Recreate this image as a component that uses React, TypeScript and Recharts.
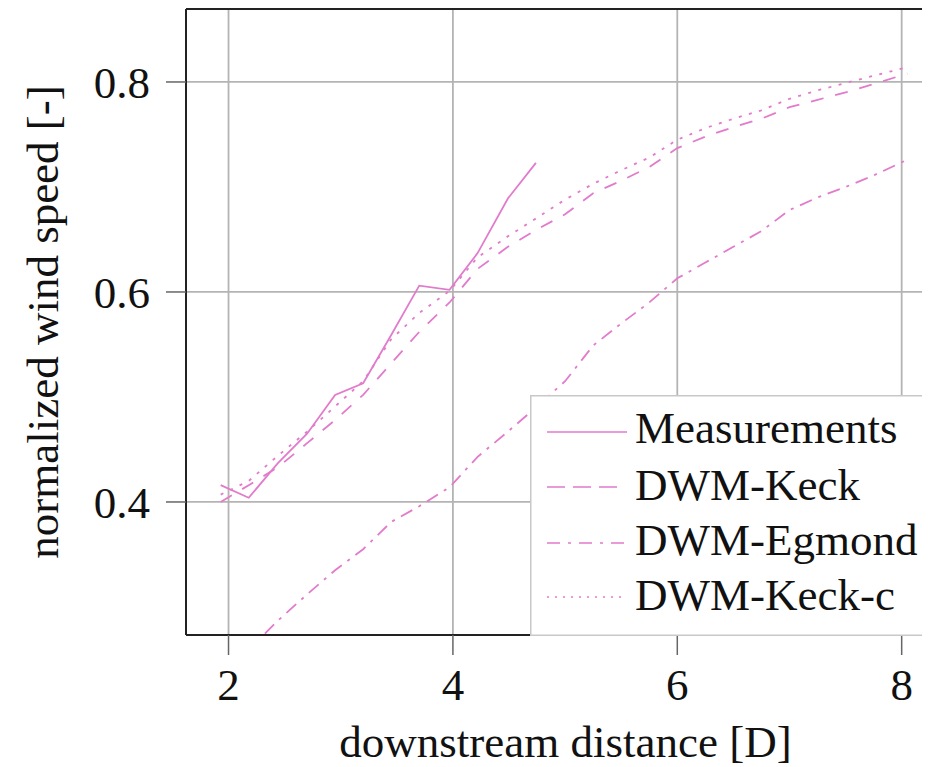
import React from "react";
import {
  LineChart,
  Line,
  XAxis,
  YAxis,
  CartesianGrid,
  ReferenceLine,
  Label,
} from "recharts";

// ---- data ----
const measX = [1.93, 2.18, 2.44, 2.7, 2.95, 3.2, 3.45, 3.7, 3.97, 4.22, 4.49, 4.74];
const measY = [0.416, 0.404, 0.437, 0.465, 0.502, 0.513, 0.559, 0.606, 0.602, 0.637, 0.689, 0.723];

const modelX = [
  1.93, 2.18, 2.44, 2.7, 2.95, 3.2, 3.45, 3.7, 3.97, 4.22, 4.49, 4.74, 5.0, 5.25, 5.5, 5.75,
  6.0, 6.25, 6.5, 6.75, 7.0, 7.25, 7.5, 7.75, 8.05,
];
const keckY = [
  0.4, 0.416, 0.433, 0.456, 0.478, 0.502, 0.532, 0.562, 0.59, 0.622, 0.643, 0.659, 0.674,
  0.694, 0.706, 0.719, 0.737, 0.748, 0.757, 0.765, 0.776, 0.783, 0.79, 0.798, 0.808,
];
const egmondY = [
  0.236, 0.259, 0.287, 0.312, 0.335, 0.355, 0.381, 0.396, 0.414, 0.443, 0.467, 0.49, 0.515,
  0.549, 0.57, 0.59, 0.613, 0.628, 0.643, 0.658, 0.678, 0.69, 0.7, 0.711, 0.726,
];
const keckCY = [
  0.407, 0.42, 0.444, 0.467, 0.491, 0.515, 0.555, 0.58, 0.601, 0.633, 0.653, 0.67, 0.688,
  0.703, 0.716, 0.728, 0.745, 0.756, 0.765, 0.773, 0.784, 0.792, 0.799, 0.806, 0.814,
];

const xTicks = [2, 4, 6, 8];
const yTicks = [0.4, 0.6, 0.8];
const X_DOMAIN: [number, number] = [1.621, 8.297];
const Y_DOMAIN: [number, number] = [0.2733, 0.8695];

const seriesNames = ["Measurements", "DWM-Keck", "DWM-Egmond", "DWM-Keck-c"];

const toPts = (xs: number[], ys: number[]) => xs.map((x, i) => ({ x, y: ys[i] }));

const PINK = "#e27bcc";
const FONT = "'Liberation Serif', 'Times New Roman', serif";

const plotDash = ["", "13 12", "13 7 3 7", "3 7.5"];
const legendDash = ["", "18 8", "13 8 3 8", "2 6"];
const legendLen = [80, 70, 80, 80];

function LegendBox() {
  const lineYs = [37, 92, 148, 202];
  const baseYs = [48, 105, 160, 215];
  return (
    <div style={{ position: "absolute", left: 522, top: 387 }}>
      <svg width={420} height={241}>
        <rect x={0.75} y={0.75} width={430} height={239.5} fill="#fff" stroke="#c8c8c8" strokeWidth={1.5} />
        {seriesNames.map((n, i) => (
          <g key={n}>
            <line
              x1={17}
              x2={17 + legendLen[i]}
              y1={lineYs[i]}
              y2={lineYs[i]}
              stroke={PINK}
              strokeWidth={1.6}
              strokeDasharray={legendDash[i] || undefined}
            />
            <text x={105} y={baseYs[i]} fontFamily={FONT} fontSize={45} fill="#111">
              {n}
            </text>
          </g>
        ))}
      </svg>
    </div>
  );
}

export default function App() {
  const series = [
    toPts(measX, measY),
    toPts(modelX, keckY),
    toPts(modelX, egmondY),
    toPts(modelX, keckCY),
  ];
  const tickStyle = { fontFamily: FONT, fontSize: 45, fill: "#111" };
  return (
    <div style={{ width: 922, height: 759, overflow: "hidden", position: "relative" }}>
      <LineChart width={932} height={759} margin={{ top: 1, right: 5, bottom: 0, left: 0 }}>
        <CartesianGrid stroke="#b4b4b4" strokeWidth={1.8} />
        <XAxis
          type="number"
          dataKey="x"
          domain={X_DOMAIN}
          allowDataOverflow
          ticks={xTicks}
          height={132}
          tick={tickStyle}
          tickSize={20}
          tickMargin={13}
          tickLine={{ stroke: "#666", strokeWidth: 1.5 }}
          axisLine={{ stroke: "#222", strokeWidth: 2 }}
        >
          <Label
            content={(p: any) => {
              const vb = p.viewBox || {};
              return (
                <text
                  x={vb.x + vb.width / 2 + 5}
                  y={vb.y + 122}
                  textAnchor="middle"
                  fontFamily={FONT}
                  fontSize={45}
                  fill="#111"
                >
                  downstream distance [D]
                </text>
              );
            }}
          />
        </XAxis>
        <YAxis
          type="number"
          dataKey="y"
          domain={Y_DOMAIN}
          allowDataOverflow
          ticks={yTicks}
          width={178}
          tick={tickStyle}
          tickFormatter={(v: number) => v.toFixed(1)}
          tickSize={20}
          tickMargin={16}
          tickLine={{ stroke: "#666", strokeWidth: 1.5 }}
          axisLine={{ stroke: "#222", strokeWidth: 2 }}
        >
          <Label
            content={(p: any) => {
              const vb = p.viewBox || {};
              const cx = 50;
              const cy = vb.y + vb.height / 2;
              return (
                <text
                  x={cx}
                  y={cy}
                  transform={`rotate(-90, ${cx}, ${cy})`}
                  textAnchor="middle"
                  fontFamily={FONT}
                  fontSize={45}
                  fill="#111"
                >
                  normalized wind speed [-]
                </text>
              );
            }}
          />
        </YAxis>
        <ReferenceLine y={Y_DOMAIN[1]} stroke="#222" strokeWidth={2} />
        {series.map((d, i) => (
          <Line
            key={seriesNames[i]}
            data={d}
            dataKey="y"
            name={seriesNames[i]}
            type="linear"
            stroke={PINK}
            strokeWidth={1.8}
            strokeDasharray={plotDash[i] || undefined}
            dot={false}
            activeDot={false}
            isAnimationActive={false}
          />
        ))}
      </LineChart>
      <LegendBox />
    </div>
  );
}
